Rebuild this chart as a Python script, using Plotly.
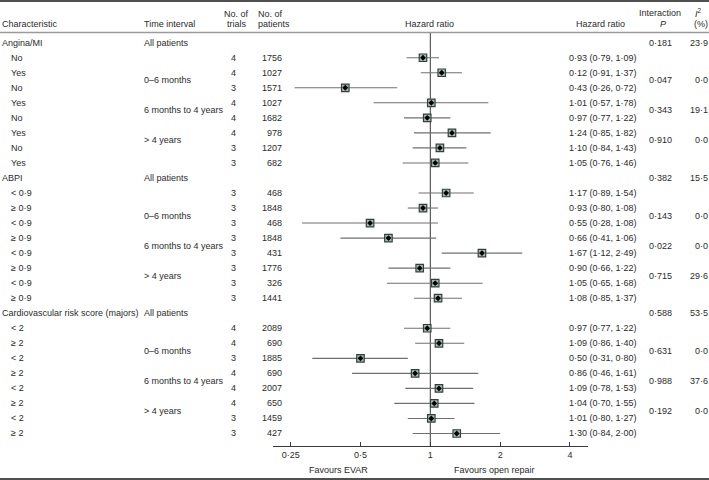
import math
import plotly.graph_objects as go

# ---------------- data ----------------
sections = ["Angina/MI", "ABPI", "Cardiovascular risk score (majors)"]
time_intervals = ["All patients", "0–6 months", "6 months to 4 years", "> 4 years"]

angina_labels = ["No", "Yes", "No", "Yes", "No", "Yes", "No", "Yes"]
angina_trials = [4, 4, 3, 4, 4, 4, 3, 3]
angina_patients = [1756, 1027, 1571, 1027, 1682, 978, 1207, 682]
angina_hr = [0.93, 1.12, 0.43, 1.01, 0.97, 1.24, 1.10, 1.05]
angina_lo = [0.79, 0.91, 0.26, 0.57, 0.77, 0.85, 0.84, 0.76]
angina_hi = [1.09, 1.37, 0.72, 1.78, 1.22, 1.82, 1.43, 1.46]
angina_hr_text = ["0·93 (0·79, 1·09)", "0·12 (0·91, 1·37)", "0·43 (0·26, 0·72)", "1·01 (0·57, 1·78)",
                  "0·97 (0·77, 1·22)", "1·24 (0·85, 1·82)", "1·10 (0·84, 1·43)", "1·05 (0·76, 1·46)"]
angina_p = ["0·181", "0·047", "0·343", "0·910"]
angina_i2 = ["23·9", "0·0", "19·1", "0·0"]

abpi_labels = ["< 0·9", "≥ 0·9"] * 4
abpi_trials = [3, 3, 3, 3, 3, 3, 3, 3]
abpi_patients = [468, 1848, 468, 1848, 431, 1776, 326, 1441]
abpi_hr = [1.17, 0.93, 0.55, 0.66, 1.67, 0.90, 1.05, 1.08]
abpi_lo = [0.89, 0.80, 0.28, 0.41, 1.12, 0.66, 0.65, 0.85]
abpi_hi = [1.54, 1.08, 1.08, 1.06, 2.49, 1.22, 1.68, 1.37]
abpi_hr_text = ["1·17 (0·89, 1·54)", "0·93 (0·80, 1·08)", "0·55 (0·28, 1·08)", "0·66 (0·41, 1·06)",
                "1·67 (1·12, 2·49)", "0·90 (0·66, 1·22)", "1·05 (0·65, 1·68)", "1·08 (0·85, 1·37)"]
abpi_p = ["0·382", "0·143", "0·022", "0·715"]
abpi_i2 = ["15·5", "0·0", "0·0", "29·6"]

cv_labels = ["< 2", "≥ 2"] * 4
cv_trials = [4, 4, 3, 4, 4, 4, 3, 3]
cv_patients = [2089, 690, 1885, 690, 2007, 650, 1459, 427]
cv_hr = [0.97, 1.09, 0.50, 0.86, 1.09, 1.04, 1.01, 1.30]
cv_lo = [0.77, 0.86, 0.31, 0.46, 0.78, 0.70, 0.80, 0.84]
cv_hi = [1.22, 1.40, 0.80, 1.61, 1.53, 1.55, 1.27, 2.00]
cv_hr_text = ["0·97 (0·77, 1·22)", "1·09 (0·86, 1·40)", "0·50 (0·31, 0·80)", "0·86 (0·46, 1·61)",
              "1·09 (0·78, 1·53)", "1·04 (0·70, 1·55)", "1·01 (0·80, 1·27)", "1·30 (0·84, 2·00)"]
cv_p = ["0·588", "0·631", "0·988", "0·192"]
cv_i2 = ["53·5", "0·0", "37·6", "0·0"]

tick_vals = [0.25, 0.5, 1, 2, 4]
tick_text = ["0·25", "0·5", "1", "2", "4"]

# ---------------- layout helpers ----------------
W, H = 709, 480
ROW0_PX, ROW_PX = 42.7, 15.03        # pixel y of first row, row spacing
AXIS_PX = 446                         # pixel y of the HR axis line
X_LEFT_PX, X_RIGHT_PX = 273, 588      # HR axis extent in pixels
ONE_PX, DOUBLING_PX = 430.3, 69.83    # pixel x of HR=1, pixels per doubling

def row_of(py):
    return (py - ROW0_PX) / ROW_PX

def px(x):
    return x / W

def py(y):
    return 1 - y / H

TEXT = "#2b2b2b"
FONT = "Liberation Sans, Arial, sans-serif"
FS = 9

blocks = [
    (angina_labels, angina_trials, angina_patients, angina_hr, angina_lo, angina_hi, angina_hr_text, angina_p, angina_i2),
    (abpi_labels, abpi_trials, abpi_patients, abpi_hr, abpi_lo, abpi_hi, abpi_hr_text, abpi_p, abpi_i2),
    (cv_labels, cv_trials, cv_patients, cv_hr, cv_lo, cv_hi, cv_hr_text, cv_p, cv_i2),
]
time_offsets = [0, 2.5, 4.5, 6.5]

annotations = []

def add_text(x, y, text, xanchor="left", yref="y", size=FS):
    annotations.append(dict(x=x, y=y, xref="paper", yref=yref, text=text, showarrow=False,
                            xanchor=xanchor, yanchor="middle", borderpad=0,
                            font=dict(family=FONT, size=size, color=TEXT)))

ci_x, ci_y, pt_x, pt_y = [], [], [], []
for s, (labels, trials, patients, hr, lo, hi, hrt, pv, i2) in enumerate(blocks):
    base = 9 * s
    add_text(px(0.5), base, sections[s])
    for k, t in enumerate(time_intervals):
        add_text(px(143), base + time_offsets[k], t)
        add_text(px(660.5), base + time_offsets[k], pv[k], xanchor="center")
        add_text(px(708.5), base + time_offsets[k], i2[k], xanchor="right")
    for i in range(8):
        r = base + 1 + i
        add_text(px(9.5), r, labels[i])
        add_text(px(237.5), r, str(trials[i]), xanchor="right")
        add_text(px(282.5), r, str(patients[i]), xanchor="right")
        add_text(px(568), r, hrt[i])
        ci_x += [lo[i], hi[i], None]
        ci_y += [r, r, None]
        pt_x.append(hr[i])
        pt_y.append(r)

# headers
add_text(px(0.5), py(24), "Characteristic", yref="paper")
add_text(px(143), py(24), "Time interval", yref="paper")
add_text(px(236), py(14), "No. of", xanchor="center", yref="paper")
add_text(px(236.5), py(24.5), "trials", xanchor="center", yref="paper")
add_text(px(257), py(14), "No. of", yref="paper")
add_text(px(257), py(24.5), "patients", yref="paper")
add_text(px(430), py(24), "Hazard ratio", xanchor="center", yref="paper")
add_text(px(600.5), py(24), "Hazard ratio", xanchor="center", yref="paper")
add_text(px(660), py(13.5), "Interaction", xanchor="center", yref="paper")
add_text(px(662.5), py(24.5), "<i>P</i>", xanchor="center", yref="paper")
add_text(px(698), py(13.5), "<i>I</i><sup>2</sup>", xanchor="center", yref="paper")
add_text(px(708.5), py(24.5), "(%)", xanchor="right", yref="paper")
add_text(px(338.5), py(469.5), "Favours EVAR", xanchor="center", yref="paper")
add_text(px(494), py(469.5), "Favours open repair", xanchor="center", yref="paper")

fig = go.Figure()
# reference line at HR = 1
fig.add_trace(go.Scatter(x=[1, 1], y=[row_of(33), row_of(AXIS_PX)], mode="lines",
                         line=dict(color="#3a3a3a", width=1), hoverinfo="skip"))
# confidence intervals
fig.add_trace(go.Scatter(x=ci_x, y=ci_y, mode="lines",
                         line=dict(color="#707070", width=1.1), hoverinfo="skip"))
# squares
fig.add_trace(go.Scatter(x=pt_x, y=pt_y, mode="markers",
                         marker=dict(symbol="square", size=7.5, color="#a9bab6",
                                     line=dict(color="#34403f", width=1.2)),
                         hoverinfo="skip", cliponaxis=False))
# centre dots
fig.add_trace(go.Scatter(x=pt_x, y=pt_y, mode="markers",
                         marker=dict(symbol="diamond", size=4.5, color="#000000"),
                         hoverinfo="skip", cliponaxis=False))

lo_hr = 2 ** ((X_LEFT_PX - ONE_PX) / DOUBLING_PX)
hi_hr = 2 ** ((X_RIGHT_PX - ONE_PX) / DOUBLING_PX)

shapes = [
    dict(type="line", xref="paper", yref="paper", x0=0, x1=1, y0=py(1), y1=py(1),
         line=dict(color="#505050", width=2)),
    dict(type="line", xref="paper", yref="paper", x0=0, x1=1, y0=py(32.5), y1=py(32.5),
         line=dict(color="#9a9a9a", width=1.5)),
    dict(type="line", xref="paper", yref="paper", x0=0, x1=1, y0=py(479), y1=py(479),
         line=dict(color="#505050", width=2)),
]

fig.update_layout(
    width=W, height=H,
    margin=dict(l=0, r=0, t=0, b=0),
    paper_bgcolor="white", plot_bgcolor="rgba(0,0,0,0)",
    showlegend=False,
    annotations=annotations,
    shapes=shapes,
    xaxis=dict(type="log", range=[math.log10(lo_hr), math.log10(hi_hr)],
               domain=[X_LEFT_PX / W, X_RIGHT_PX / W], anchor="free", position=py(AXIS_PX),
               tickvals=tick_vals, ticktext=tick_text, ticks="inside", ticklen=4,
               tickcolor="#3a3a3a", tickwidth=1, showline=True, linecolor="#3a3a3a", linewidth=1,
               showgrid=False, zeroline=False,
               tickfont=dict(family=FONT, size=FS, color=TEXT)),
    yaxis=dict(range=[row_of(H), row_of(0)], domain=[0, 1], visible=False,
               showgrid=False, zeroline=False),
)

fig.write_html("out.html", config={"displayModeBar": False},
               post_script="document.body.style.margin='0px';document.body.style.overflow='hidden';")
